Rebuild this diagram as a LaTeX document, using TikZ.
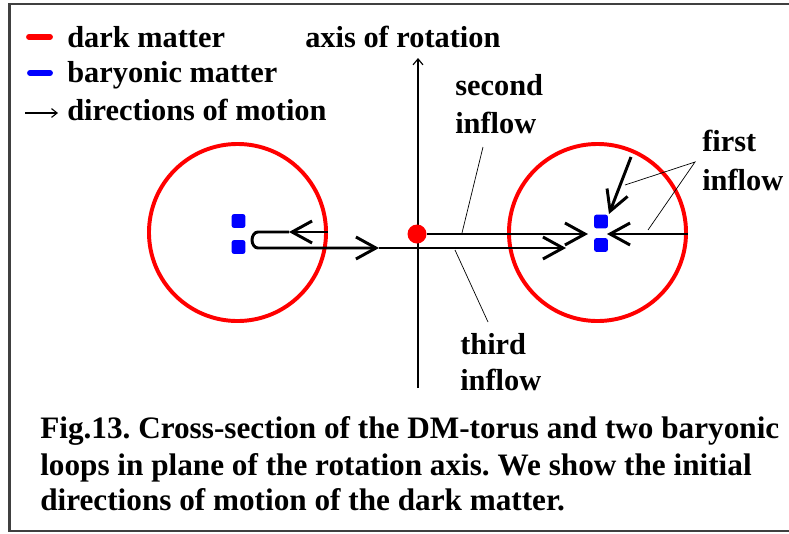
\documentclass[tikz,border=0pt]{standalone}
\usepackage{fontspec}
\newfontfamily\figfont{Liberation Serif}
\usetikzlibrary{arrows.meta}
\frenchspacing

\begin{document}
\begin{tikzpicture}[x=0.025cm, y=-0.025cm,
    every node/.style={font=\figfont\bfseries\fontsize{21.6}{25}\selectfont, inner sep=0pt},
    txt/.style={anchor=base west},
    captxt/.style={txt, font=\figfont\bfseries\fontsize{22.2}{25}\selectfont},
    frame/.style={draw=black!75, line width=2pt},
    torus/.style={draw=red, line width=2.8pt, circle, minimum size=4.425cm},
    baryon/.style={fill=blue, rounded corners=1.5pt, minimum size=0.34cm},
    core/.style={fill=red, circle, minimum size=0.475cm},
    flow/.style={line width=2.1pt, -{Straight Barb[length=0.5cm, width=0.55cm]}},
    leader/.style={line width=0.5pt},
    swatch/.style={line width=4.2pt, line cap=round},
  ]
  \useasboundingbox (0,0) rectangle (789,533);
  \draw[frame] (789,4) -- (9.5,4) -- (9.5,531) -- (789,531);

  % legend
  \draw[swatch, red]  (29,37) -- (50,37);
  \draw[swatch, blue] (30,73) -- (50,73);
  \coordinate (keyA) at (25,113);
  \coordinate (keyB) at (58,113);
  \draw[line width=0.8pt, -{Straight Barb[length=0.14cm, width=0.22cm]}] (keyA) -- (keyB);
  \node[txt] (dm)  at (67,47)  {dark matter};
  \node[txt] (bm)  at (67,82)  {baryonic matter};
  \node[txt] (dir) at (67,120) {directions of motion};

  % axis
  \node[txt] (axislbl) at (305,47) {axis of rotation};
  \coordinate (axbot) at (418,388);
  \coordinate (axtop) at (418,58);
  \draw[line width=0.8pt, -{Straight Barb[length=0.15cm, width=0.25cm]}] (axbot) -- (axtop);

  % torus cross-section and baryonic loops
  \node[torus] (ltorus) at (237.5,232.5) {};
  \node[torus] (rtorus) at (597.5,232.5) {};
  \node[baryon] (lb1) at (238.5,221) {};
  \node[baryon] (lb2) at (238.5,247) {};
  \node[baryon] (rb1) at (601,221.5) {};
  \node[baryon] (rb2) at (601,245) {};
  \node[core] (core) at (417,234) {};

  % directions of motion
  \coordinate (lchev) at (289,232);
  \coordinate (lturn) at (258,232);
  \coordinate (lmid)  at (379,248);
  \coordinate (lend)  at (566,248);
  \coordinate (uend)  at (588,234);
  \coordinate (rchev) at (607,234);
  \coordinate (dstart) at (631,157);
  \coordinate (dtip)   at (609,214);
  \draw[flow] (lchev -| ltorus.east) -- (lchev);
  \draw[flow] (lchev) -- (lturn)
    arc[start angle=90, end angle=270, x radius=0.15cm, y radius=0.2cm] -- (lmid);
  \draw[flow] (lmid) -- (lend);
  \draw[flow] (core) -- (uend);
  \draw[flow] (rchev -| rtorus.east) -- (rchev);
  \draw[flow] (dstart) -- (dtip);

  % inflow labels
  \node[txt] (second) at (455,95)  {second};
  \node[txt] (secinf) at (455,133) {inflow};
  \node[txt] (third)  at (460,354) {third};
  \node[txt] (thdinf) at (460,390) {inflow};
  \node[txt] (first)  at (702,151) {first};
  \node[txt] (fstinf) at (702,190) {inflow};
  \coordinate (sectop)  at (483,147);
  \coordinate (secfoot) at (462,233);
  \coordinate (thdtop)  at (488,322);
  \coordinate (thdfoot) at (455,250);
  \coordinate (fsthub)  at (695,162);
  \coordinate (fsta)    at (625,185);
  \coordinate (fstb)    at (648,230);
  \draw[leader] (sectop) -- (secfoot);
  \draw[leader] (thdtop) -- (thdfoot);
  \draw[leader] (fsta) -- (fsthub) -- (fstb);

  % caption
  \node[captxt] (cap1) at (40,438) {Fig.13. Cross-section of the DM-torus and two baryonic};
  \node[captxt] (cap2) at (40,475) {loops in plane of the rotation axis. We show the initial};
  \node[captxt] (cap3) at (40,510) {directions of motion of the dark matter.};
\end{tikzpicture}
\end{document}
